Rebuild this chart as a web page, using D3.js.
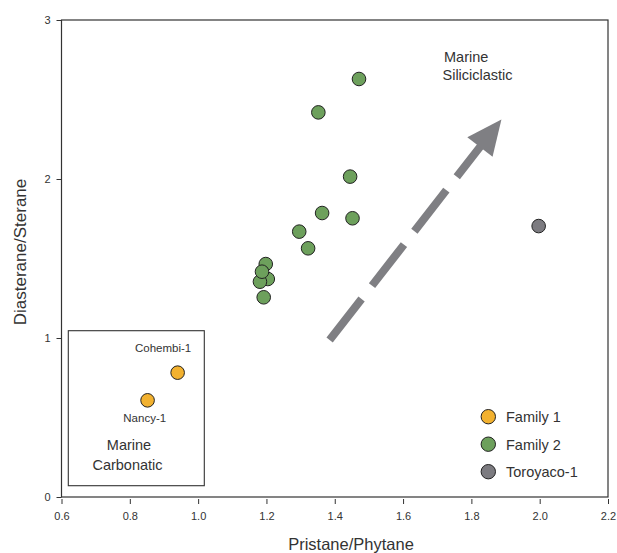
<!DOCTYPE html>
<html><head><meta charset="utf-8">
<script src="https://cdn.jsdelivr.net/npm/d3@7"></script>
<style>body{margin:0;background:#fff;}svg{display:block;font-family:"Liberation Sans",Arial,sans-serif;}</style>
</head><body>
<script>
// Data
const family1 = [
  {name: "Cohembi-1", x: 0.940, y: 0.782},
  {name: "Nancy-1", x: 0.852, y: 0.608}
];
const family2X = [1.471, 1.352, 1.445, 1.363, 1.452, 1.296, 1.322, 1.198, 1.204, 1.181, 1.187, 1.192];
const family2Y = [2.629, 2.419, 2.015, 1.786, 1.753, 1.669, 1.564, 1.465, 1.371, 1.354, 1.417, 1.256];
const toroyaco = [{name: "Toroyaco-1", x: 1.997, y: 1.704}];
const xTicks = [0.6, 0.8, 1.0, 1.2, 1.4, 1.6, 1.8, 2.0, 2.2];
const yTicks = [0, 1, 2, 3];
const legendLabels = ["Family 1", "Family 2", "Toroyaco-1"];
const arrowFrom = [1.385, 0.987];
const arrowTo = [1.888, 2.375];

const colors = {f1: "#F2B12F", f2: "#6DA05C", t: "#7C7B80"};

(function () {
const W = 617, H = 553;
const svg = d3.select("body").append("svg").attr("width", W).attr("height", H);
const pL = 61.5, pR = 608, pT = 20, pB = 497;
const x = d3.scaleLinear().domain([0.6, 2.2]).range([pL, pR]);
const y = d3.scaleLinear().domain([0, 3]).range([pB, pT]);

// frame
svg.append("rect").attr("x", pL).attr("y", pT).attr("width", pR - pL).attr("height", pB - pT)
  .attr("fill", "none").attr("stroke", "#333").attr("stroke-width", 1.2);

// x axis
const xAxis = d3.axisBottom(x).tickValues(xTicks).tickFormat(d3.format(".1f")).tickSize(5).tickPadding(8);
const gx = svg.append("g").attr("transform", `translate(0,${pB + 2})`).call(xAxis);
gx.select(".domain").remove();
gx.selectAll(".tick line").attr("stroke", "#333");
gx.selectAll(".tick text").attr("font-size", 11).attr("fill", "#333").attr("font-family", "Liberation Sans, Arial, sans-serif");

// y axis
const yAxis = d3.axisLeft(y).tickValues(yTicks).tickFormat(d3.format("d")).tickSize(5).tickPadding(6);
const gy = svg.append("g").attr("transform", `translate(${pL},0)`).call(yAxis);
gy.select(".domain").remove();
gy.selectAll(".tick line").attr("stroke", "#333");
gy.selectAll(".tick text").attr("font-size", 11).attr("fill", "#333").attr("font-family", "Liberation Sans, Arial, sans-serif");

// axis titles
svg.append("text").attr("x", 351).attr("y", 550).attr("text-anchor", "middle")
  .attr("font-size", 16.5).attr("fill", "#333").text("Pristane/Phytane");
svg.append("text").attr("transform", "translate(26,252) rotate(-90)").attr("text-anchor", "middle")
  .attr("font-size", 17).attr("fill", "#333").text("Diasterane/Sterane");

// inset box
svg.append("rect").attr("x", 68.3).attr("y", 330.7).attr("width", 136).attr("height", 155)
  .attr("fill", "none").attr("stroke", "#333").attr("stroke-width", 1.1);

// Arrow (dashed)
const ax0 = x(arrowFrom[0]), ay0 = y(arrowFrom[1]), ax1 = x(arrowTo[0]), ay1 = y(arrowTo[1]);
const len = Math.hypot(ax1 - ax0, ay1 - ay0);
const ux = (ax1 - ax0) / len, uy = (ay1 - ay0) / len;
const headLen = 35, headW = 32;
const bx = ax1 - ux * headLen, by = ay1 - uy * headLen;
const shaftEnd = Math.hypot(bx - ax0, by - ay0) + 4;
svg.append("line").attr("x1", ax0).attr("y1", ay0)
  .attr("x2", ax0 + ux * shaftEnd).attr("y2", ay0 + uy * shaftEnd)
  .attr("stroke", "#7F7F83").attr("stroke-width", 8)
  .attr("stroke-dasharray", "52,17");
const px = -uy, py = ux;
svg.append("path").attr("d", `M${ax1},${ay1} L${bx + px * headW / 2},${by + py * headW / 2} L${bx - px * headW / 2},${by - py * headW / 2} Z`)
  .attr("fill", "#7F7F83");

// region labels
const lab = svg.append("g").attr("fill", "#333");
lab.append("text").attr("x", 444).attr("y", 62).attr("font-size", 14.5).text("Marine");
lab.append("text").attr("x", 442.5).attr("y", 80).attr("font-size", 14.5).text("Siliciclastic");
lab.append("text").attr("x", 129).attr("y", 450).attr("text-anchor", "middle").attr("font-size", 14.5).text("Marine");
lab.append("text").attr("x", 127.5).attr("y", 470).attr("text-anchor", "middle").attr("font-size", 14.5).text("Carbonatic");
lab.append("text").attr("x", 135).attr("y", 352).attr("font-size", 11.5).text("Cohembi-1");
lab.append("text").attr("x", 123.3).attr("y", 422).attr("font-size", 11.5).text("Nancy-1");

// points
const r = 6.8;
const f2 = family2X.map((v, i) => ({x: v, y: family2Y[i]}));
svg.append("g").selectAll("circle").data(f2).join("circle")
  .attr("cx", d => x(d.x)).attr("cy", d => y(d.y)).attr("r", r)
  .attr("fill", colors.f2).attr("stroke", "#222").attr("stroke-width", 1);
svg.append("g").selectAll("circle").data(family1).join("circle")
  .attr("cx", d => x(d.x)).attr("cy", d => y(d.y)).attr("r", r)
  .attr("fill", colors.f1).attr("stroke", "#222").attr("stroke-width", 1);
svg.append("g").selectAll("circle").data(toroyaco).join("circle")
  .attr("cx", d => x(d.x)).attr("cy", d => y(d.y)).attr("r", r)
  .attr("fill", colors.t).attr("stroke", "#222").attr("stroke-width", 1);

// legend
const legCols = [colors.f1, colors.f2, colors.t];
const leg = svg.append("g");
legendLabels.forEach((t, i) => {
  const cy = 416.7 + i * 27.5;
  leg.append("circle").attr("cx", 488.3).attr("cy", cy).attr("r", 7.2)
    .attr("fill", legCols[i]).attr("stroke", "#222").attr("stroke-width", 1);
  leg.append("text").attr("x", 506).attr("y", cy + 5.5).attr("font-size", 14.5).attr("fill", "#333").text(t);
});
})();
</script>
</body></html>
